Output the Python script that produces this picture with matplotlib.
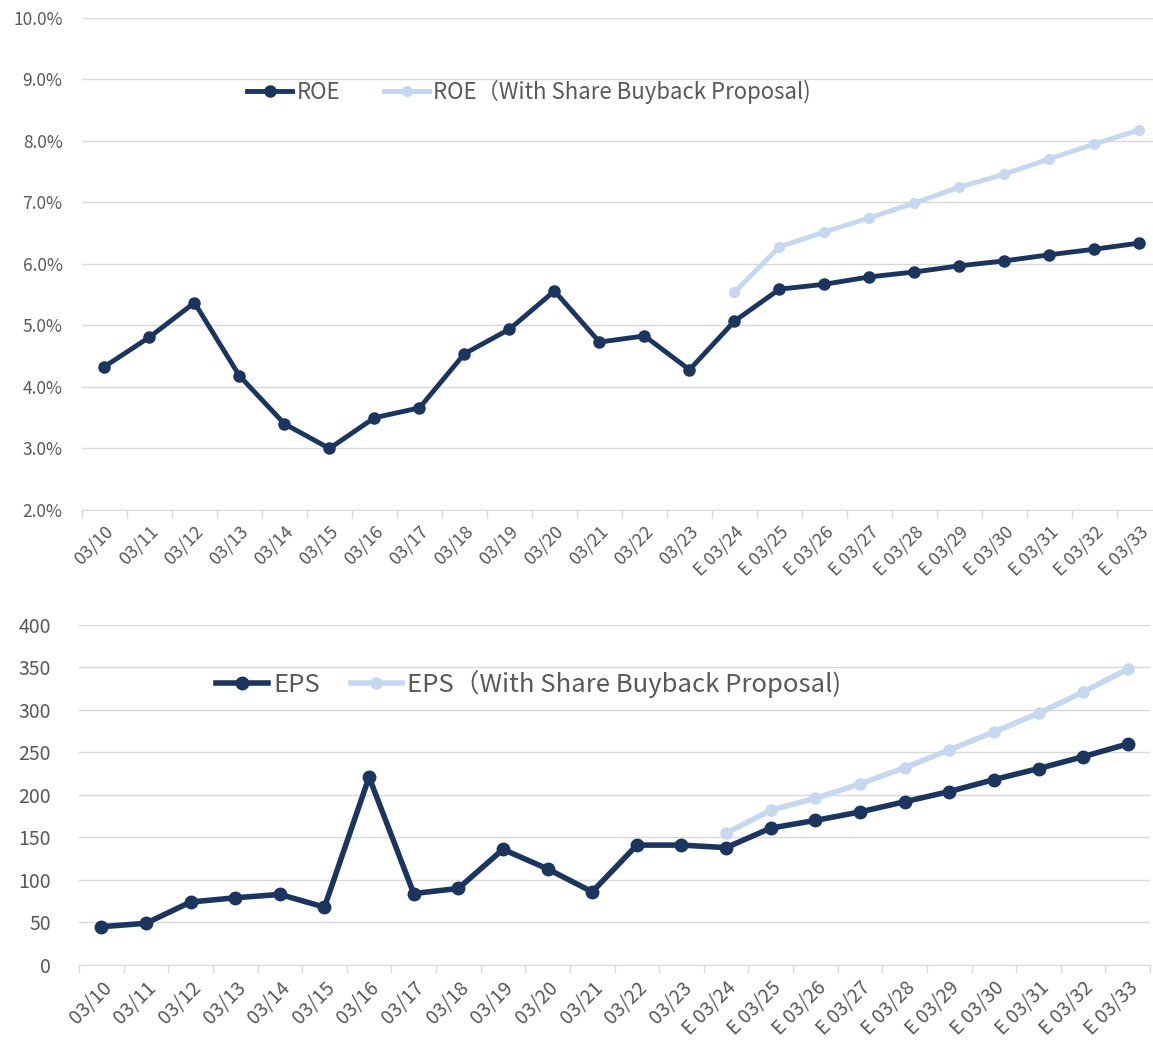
import numpy as np
import matplotlib.pyplot as plt
from matplotlib.ticker import FixedLocator

plt.rcParams['font.family'] = ['Noto Sans CJK JP', 'DejaVu Sans']

labels = ['03/10', '03/11', '03/12', '03/13', '03/14', '03/15', '03/16', '03/17',
          '03/18', '03/19', '03/20', '03/21', '03/22', '03/23',
          'E 03/24', 'E 03/25', 'E 03/26', 'E 03/27', 'E 03/28', 'E 03/29',
          'E 03/30', 'E 03/31', 'E 03/32', 'E 03/33']

roe = [4.33, 4.81, 5.37, 4.18, 3.40, 3.00, 3.50, 3.66, 4.54, 4.94, 5.56, 4.73,
       4.83, 4.28, 5.07, 5.59, 5.67, 5.79, 5.87, 5.97, 6.05, 6.15, 6.24, 6.34]
roe_buyback = [5.54, 6.28, 6.52, 6.75, 6.99, 7.25, 7.46, 7.71, 7.95, 8.18]

eps = [45, 49, 74, 79, 83, 68, 221, 84, 90, 136, 113, 86, 141, 141,
       138, 161, 170, 180, 192, 204, 218, 231, 245, 260]
eps_buyback = [155, 182, 196, 213, 232, 253, 274, 296, 321, 348]

dark = '#1c355e'
light = '#c5d8ef'
grid_c = '#d9d9d9'
txt_c = '#595959'

x = np.arange(len(labels))
xb = x[-len(roe_buyback):]

fig = plt.figure(figsize=(11.53, 10.45), dpi=100)
ax1 = fig.add_axes([0.0711, 0.512, 0.9367, 0.4708])
ax2 = fig.add_axes([0.0685, 0.0766, 0.929, 0.3254])


def style(ax, fs_x, fs_y):
    ax.set_xlim(-0.5, len(labels) - 0.5)
    ax.set_xticks(x)
    ax.set_xticklabels(labels, rotation=45, ha='right', rotation_mode='anchor',
                       fontsize=fs_x, color=txt_c)
    ax.xaxis.set_minor_locator(FixedLocator(np.arange(-0.5, len(labels), 1)))
    ax.tick_params(axis='x', which='major', length=0, pad=9)
    ax.tick_params(axis='x', which='minor', length=6, color=grid_c, width=1)
    ax.tick_params(axis='y', length=0, labelsize=fs_y, labelcolor=txt_c, pad=14)
    for s in ['top', 'right', 'left']:
        ax.spines[s].set_visible(False)
    ax.spines['bottom'].set_color(grid_c)
    ax.grid(axis='y', color=grid_c, linewidth=1)
    ax.set_axisbelow(True)


ax1.plot(xb, roe_buyback, color=light, lw=3.5, marker='o', ms=7,
         label='ROE（With Share Buyback Proposal)')
ax1.plot(x, roe, color=dark, lw=3.5, marker='o', ms=8, label='ROE')
ax1.set_ylim(2, 10)
ax1.set_yticks(np.arange(2, 10.1, 1))
ax1.set_yticklabels([f'{v:.1f}%' for v in np.arange(2, 10.1, 1)])
style(ax1, 13, 12.5)
h, l = ax1.get_legend_handles_labels()
ax1.legend(h[::-1], l[::-1], loc='center', bbox_to_anchor=(0.414, 0.85), ncol=2,
           frameon=False, fontsize=16, labelcolor=txt_c, handlelength=2.0,
           handletextpad=0.2, columnspacing=2.0)

ax2.plot(xb, eps_buyback, color=light, lw=4, marker='o', ms=8,
         label='EPS（With Share Buyback Proposal)')
ax2.plot(x, eps, color=dark, lw=4, marker='o', ms=9, label='EPS')
ax2.set_ylim(0, 400)
ax2.set_yticks(np.arange(0, 401, 50))
style(ax2, 14, 14)
ax2.tick_params(axis='y', pad=20)
h, l = ax2.get_legend_handles_labels()
ax2.legend(h[::-1], l[::-1], loc='center', bbox_to_anchor=(0.42, 0.825), ncol=2,
           frameon=False, fontsize=18.5, labelcolor=txt_c, handlelength=2.0,
           handletextpad=0.2, columnspacing=1.2)

fig.savefig('out.png', dpi=100)
